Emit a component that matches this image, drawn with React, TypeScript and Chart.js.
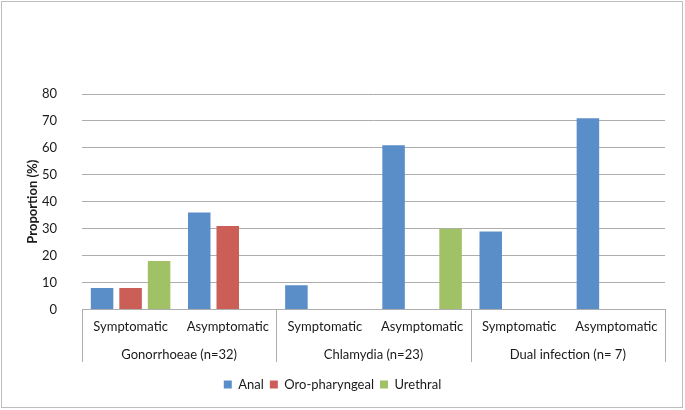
import { useEffect, useRef } from 'react';
import { Chart, registerables } from 'chart.js';

Chart.register(...registerables);

const subLabels = ['Symptomatic', 'Asymptomatic', 'Symptomatic', 'Asymptomatic', 'Symptomatic', 'Asymptomatic'];
const groupLabels = ['Gonorrhoeae (n=32)', 'Chlamydia (n=23)', 'Dual infection (n= 7)'];

const analValues = [8, 36, 9, 61, 29, 71];
const oroValues = [8, 31, 0, 0, 0, 0];
const urethralValues = [18, 0, 0, 30, 0, 0];

const yTicks = { min: 0, max: 80, step: 10 };

const FONT = 'Lato, "DejaVu Sans", sans-serif';
const LINE = '#adadad';

// group names + separator lines under the sub labels
const groupAxisPlugin = {
  id: 'groupAxis',
  afterDraw(chart: Chart) {
    const { ctx, chartArea } = chart;
    const w = (chartArea.right - chartArea.left) / groupLabels.length;
    const lineBottom = 362;
    ctx.save();
    ctx.strokeStyle = LINE;
    ctx.lineWidth = 1;
    for (let i = 0; i <= groupLabels.length; i++) {
      const x = Math.round(chartArea.left + w * i) + 0.5;
      ctx.beginPath();
      ctx.moveTo(x, chartArea.bottom);
      ctx.lineTo(x, lineBottom);
      ctx.stroke();
    }
    ctx.fillStyle = '#1a1a1a';
    ctx.font = `13px ${FONT}`;
    ctx.textAlign = 'center';
    ctx.textBaseline = 'middle';
    groupLabels.forEach((g, i) => {
      ctx.fillText(g, chartArea.left + w * (i + 0.5), 355);
    });
    ctx.restore();
  },
};

export default function App() {
  const canvasRef = useRef<HTMLCanvasElement>(null);

  useEffect(() => {
    document.body.style.margin = '0';
    if (!canvasRef.current) return;

    const chart = new Chart(canvasRef.current, {
      type: 'bar',
      data: {
        labels: subLabels,
        datasets: [
          { label: 'Anal', data: analValues, backgroundColor: '#5a8ec8' },
          { label: 'Oro-pharyngeal', data: oroValues, backgroundColor: '#cb5e57' },
          { label: 'Urethral', data: urethralValues, backgroundColor: '#a0c165' },
        ],
      },
      options: {
        responsive: false,
        animation: false,
        events: [],
        layout: { padding: { top: 94, right: 20, bottom: 9, left: 0 } },
        datasets: {
          bar: { categoryPercentage: 0.88, barPercentage: 0.79 },
        },
        plugins: {
          tooltip: { enabled: false },
          legend: {
            position: 'bottom',
            labels: {
              boxWidth: 8,
              boxHeight: 8,
              padding: 6,
              color: '#1a1a1a',
              font: { family: FONT, size: 13 },
            },
          },
        },
        scales: {
          x: {
            grid: { display: false, drawTicks: false },
            border: { display: true, color: LINE, width: 1 },
            ticks: {
              color: '#1a1a1a',
              padding: 10,
              maxRotation: 0,
              autoSkip: false,
              font: { family: FONT, size: 13 },
            },
            afterFit(scale: any) {
              scale.height = 62.5;
            },
          },
          y: {
            min: yTicks.min,
            max: yTicks.max,
            grid: { color: LINE, drawTicks: false },
            border: { display: false },
            ticks: {
              stepSize: yTicks.step,
              color: '#1a1a1a',
              padding: 25,
              font: { family: FONT, size: 13 },
            },
            title: {
              display: true,
              text: 'Proportion (%)',
              color: '#1a1a1a',
              padding: { top: 25, bottom: 0 },
              font: { family: FONT, size: 13, weight: 'bold' },
            },
            afterFit(scale: any) {
              scale.width = 82;
            },
          },
        },
      },
      plugins: [groupAxisPlugin],
    });

    return () => chart.destroy();
  }, []);

  return (
    <div style={{ position: 'relative', width: 685, height: 410, background: '#fff' }}>
      <canvas ref={canvasRef} width={685} height={410} style={{ position: 'absolute', left: 0, top: 0 }} />
      <div
        style={{
          position: 'absolute',
          left: 1,
          top: 1,
          width: 682,
          height: 407,
          boxSizing: 'border-box',
          border: '1px solid #bdbdbd',
          pointerEvents: 'none',
        }}
      />
    </div>
  );
}
